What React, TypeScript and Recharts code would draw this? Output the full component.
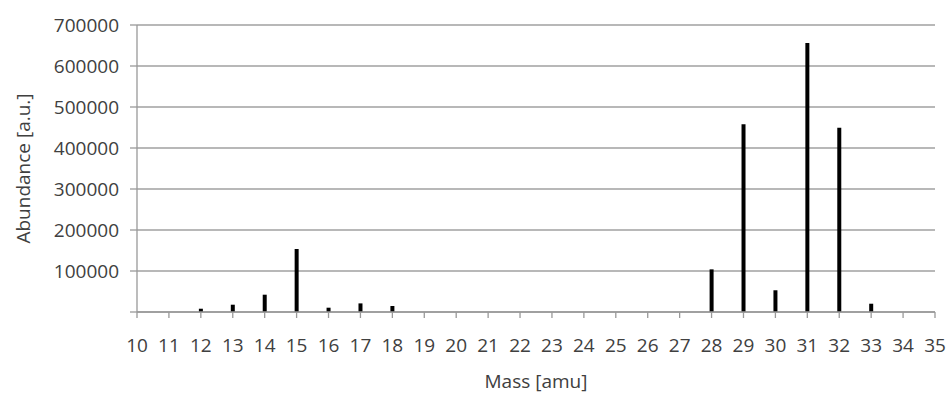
import { Bar, BarChart, CartesianGrid, Label, XAxis, YAxis } from "recharts";

const masses = [12, 13, 14, 15, 16, 17, 18, 28, 29, 30, 31, 32, 33];
const abundance = [
  8000, 17800, 42200, 153700, 10500, 21000, 14600, 104000, 457800, 53000,
  656000, 449500, 20200,
];
const xTicks = [
  10, 11, 12, 13, 14, 15, 16, 17, 18, 19, 20, 21, 22, 23, 24, 25, 26, 27, 28,
  29, 30, 31, 32, 33, 34, 35,
];
const yTicks = [0, 100000, 200000, 300000, 400000, 500000, 600000, 700000];

const data = masses.map((mass, i) => ({ mass, abundance: abundance[i] }));

const font = "'Open Sans', sans-serif";
const tickStyle = { fill: "#404040", fontSize: 19, fontFamily: font };

export default function App() {
  return (
    <div style={{ position: "absolute", left: 0, top: 0 }}>
      <BarChart
        width={947}
        height={400}
        data={data}
        margin={{ top: 25, right: 12, left: 0, bottom: 0 }}
      >
        <CartesianGrid
          vertical={false}
          stroke="#a0a0a0"
          strokeWidth={1.3}
        />
        <XAxis
          dataKey="mass"
          type="number"
          domain={[10, 35]}
          ticks={xTicks}
          interval={0}
          height={88}
          stroke="#999"
          strokeWidth={1.3}
          tickSize={6}
          tickMargin={21}
          tick={tickStyle}
        >
          <Label
            value="Mass [amu]"
            position="insideBottom"
            offset={12}
            style={{ fill: "#404040", fontSize: 19, fontFamily: font }}
          />
        </XAxis>
        <YAxis
          domain={[0, 700000]}
          ticks={yTicks}
          width={137}
          stroke="#999"
          strokeWidth={1.3}
          tickSize={7}
          tickMargin={11}
          tick={tickStyle}
          tickFormatter={(v: number) => (v === 0 ? "" : String(v))}
        >
          <Label
            content={({ viewBox }: any) => (
              <text
                x={23}
                y={viewBox.y + viewBox.height / 2}
                transform={`rotate(-90, 23, ${viewBox.y + viewBox.height / 2})`}
                textAnchor="middle"
                dominantBaseline="central"
                fill="#404040"
                fontSize={19}
                fontFamily={font}
              >
                Abundance [a.u.]
              </text>
            )}
          />
        </YAxis>
        <Bar
          dataKey="abundance"
          fill="#000"
          barSize={4}
          isAnimationActive={false}
        />
      </BarChart>
    </div>
  );
}
